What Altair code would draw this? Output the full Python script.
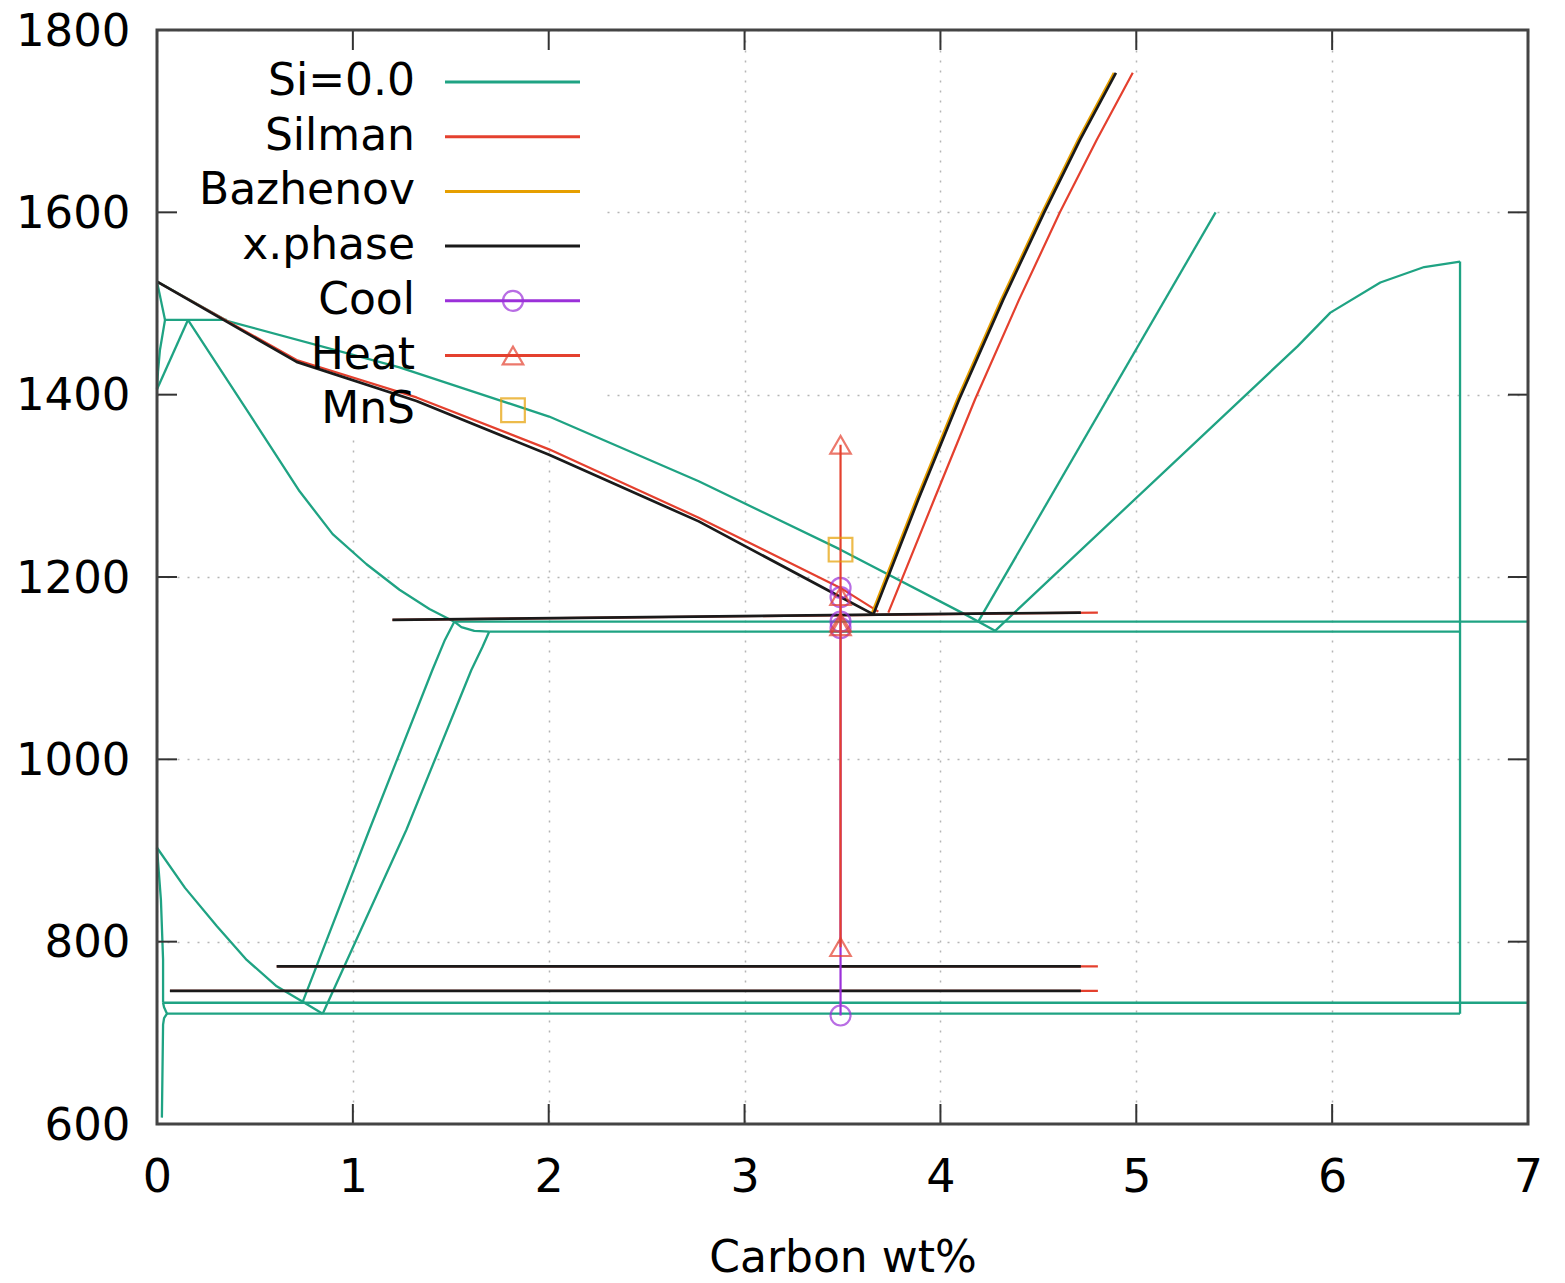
import altair as alt
import pandas as pd

W, H = 1371, 1094

# ---------------- data: Carbon wt% (c) vs temperature (T) ----------------
# Si=0.0 reference diagram (several separate curve segments)
si_delta_solidus_c = [0.0, 0.041]
si_delta_solidus_t = [1524, 1482]
si_delta_gamma_c = [0.041, 0.015, 0.005, 0.0]
si_delta_gamma_t = [1482, 1449, 1425, 1406]
si_gamma_delta_c = [0.0, 0.158]
si_gamma_delta_t = [1406, 1482]
si_peritectic_c = [0.041, 0.357]
si_peritectic_t = [1482, 1482]
si_delta_liq_c = [0.0, 0.357]
si_delta_liq_t = [1524, 1481]
si_gamma_liq_c = [0.357, 1.238, 2.002, 2.766, 3.490, 4.126, 4.279]
si_gamma_liq_t = [1481, 1430, 1376, 1305, 1230, 1159, 1141]
si_gamma_sol_c = [0.158, 0.474, 0.728, 0.897, 1.070, 1.238, 1.391, 1.518]
si_gamma_sol_t = [1482, 1378, 1294, 1247, 1214, 1186, 1165, 1151]
si_meta_sol_c = [1.518, 1.554, 1.620, 1.696]
si_meta_sol_t = [1151, 1145, 1141, 1140]
si_eutectic_c = [1.518, 7.0]
si_eutectic_t = [1151, 1151]
si_meta_eutectic_c = [1.696, 6.653]
si_meta_eutectic_t = [1140, 1140]
si_graphite_liq_c = [4.193, 5.405]
si_graphite_liq_t = [1151, 1600]
si_cementite_liq_c = [4.279, 5.823, 5.991, 6.246, 6.470, 6.653]
si_cementite_liq_t = [1141, 1453, 1490, 1523, 1540, 1546]
si_fe3c_c = [6.653, 6.653]
si_fe3c_t = [1546, 721]
si_acm_c = [0.744, 1.085, 1.406, 1.470, 1.518]
si_acm_t = [734, 923, 1098, 1131, 1151]
si_meta_acm_c = [0.846, 1.274, 1.605, 1.661, 1.696]
si_meta_acm_t = [721, 923, 1098, 1123, 1140]
si_a3_c = [0.0, 0.143, 0.306, 0.458, 0.611, 0.744, 0.846]
si_a3_t = [903, 859, 817, 780, 751, 734, 721]
si_alpha_c = [0.0, 0.020, 0.031, 0.031]
si_alpha_t = [903, 846, 780, 733]
si_alpha_solvus_c = [0.031, 0.036, 0.051, 0.036, 0.031, 0.025]
si_alpha_solvus_t = [733, 728, 721, 716, 709, 607]
si_eutectoid_c = [0.031, 7.0]
si_eutectoid_t = [733, 733]
si_meta_eutectoid_c = [0.051, 6.653]
si_meta_eutectoid_t = [721, 721]

# Silman
silman_liq_c = [0.0, 0.713, 1.325, 2.002, 2.766, 3.490, 3.683]
silman_liq_t = [1524, 1438, 1397, 1340, 1265, 1188, 1162]
silman_gr_c = [3.734, 3.968, 4.177, 4.401, 4.610, 4.799, 4.982]
silman_gr_t = [1161, 1285, 1395, 1504, 1600, 1680, 1753]
silman_eut_c = [1.202, 4.804]
silman_eut_t = [1153, 1161]
silman_ed1_c = [0.611, 4.804]
silman_ed1_t = [773, 773]
silman_ed2_c = [0.066, 4.804]
silman_ed2_t = [746, 746]

# Bazhenov
bazhenov_gr_c = [3.648, 3.877, 4.086, 4.310, 4.520, 4.704, 4.886]
bazhenov_gr_t = [1159, 1285, 1395, 1504, 1600, 1680, 1753]

# x.phase
xphase_liq_c = [0.0, 0.713, 1.325, 2.002, 2.766, 3.490, 3.658]
xphase_liq_t = [1524, 1436, 1393, 1334, 1261, 1178, 1159]
xphase_gr_c = [3.658, 3.887, 4.096, 4.320, 4.530, 4.714, 4.896]
xphase_gr_t = [1159, 1285, 1395, 1504, 1600, 1680, 1753]
xphase_eut_c = [1.202, 4.717]
xphase_eut_t = [1153, 1161]
xphase_ed1_c = [0.611, 4.717]
xphase_ed1_t = [773, 773]
xphase_ed2_c = [0.066, 4.717]
xphase_ed2_t = [746, 746]

# measured points
cool_c = [3.49, 3.49, 3.49, 3.49, 3.49]
cool_t = [1188, 1178, 1151, 1144, 719]
heat_c = [3.49, 3.49, 3.49, 3.49, 3.49]
heat_t = [1345, 1179, 1150, 1146, 794]
mns_c = [3.49]
mns_t = [1230]

x_ticks = [0, 1, 2, 3, 4, 5, 6, 7]
y_ticks = [600, 800, 1000, 1200, 1400, 1600, 1800]

legend_names = ["Si=0.0", "Silman", "Bazhenov", "x.phase", "Cool", "Heat", "MnS"]

# ---------------- styling ----------------
TEAL = "#1fa383"
RED = "#e4402e"
ORANGE = "#e69f00"
BLACK = "#1a1a1a"
PURPLE = "#9b30d9"
FONT = "DejaVu Sans"


def frame(series, segs):
    rows = []
    for k, (cs, ts) in enumerate(segs):
        for i, (c, t) in enumerate(zip(cs, ts)):
            rows.append({"series": series, "seg": f"{series}-{k}", "i": i, "c": c, "T": t})
    return pd.DataFrame(rows)


xscale = alt.Scale(domain=[0, 7], nice=False, zero=False)
yscale = alt.Scale(domain=[600, 1800], nice=False, zero=False)
xaxis = alt.Axis(values=x_ticks, format="d", title="Carbon wt%", grid=True,
                 gridDash=[2, 8], gridColor="#b5b5b5", gridWidth=1.5,
                 ticks=False, domain=False, labelFontSize=46, labelFont=FONT,
                 labelColor="black", labelPadding=31, labelFlush=False,
                 titleFontSize=44, titleFont=FONT, titleFontWeight="normal",
                 titleColor="black", titlePadding=36)
yaxis = alt.Axis(values=y_ticks, format="d", title=None, grid=True,
                 gridDash=[2, 8], gridColor="#b5b5b5", gridWidth=1.5,
                 ticks=False, domain=False, labelFontSize=45, labelFont=FONT,
                 labelColor="black", labelPadding=27, labelFlush=False,
                 labelOffset=1)

X = alt.X("c:Q", scale=xscale, axis=xaxis)
Y = alt.Y("T:Q", scale=yscale, axis=yaxis)

one = pd.DataFrame({"k": [0]})

layers = []

# grid carrier (axes)
layers.append(alt.Chart(pd.DataFrame({"c": x_ticks[:7], "T": y_ticks})).mark_point(opacity=0).encode(x=X, y=Y))

# opaque legend box hiding the grid
layers.append(alt.Chart(one).mark_rect(color="white").encode(
    x=alt.value(2), x2=alt.value(443), y=alt.value(2), y2=alt.value(410)))


def lines(df, color, width):
    return alt.Chart(df).mark_line(color=color, strokeWidth=width, strokeJoin="round").encode(
        x=X, y=Y, detail="seg:N", order="i:Q")


si_df = frame("Si=0.0", [
    (si_delta_solidus_c, si_delta_solidus_t), (si_delta_gamma_c, si_delta_gamma_t),
    (si_gamma_delta_c, si_gamma_delta_t), (si_peritectic_c, si_peritectic_t),
    (si_delta_liq_c, si_delta_liq_t), (si_gamma_liq_c, si_gamma_liq_t),
    (si_gamma_sol_c, si_gamma_sol_t), (si_meta_sol_c, si_meta_sol_t),
    (si_eutectic_c, si_eutectic_t), (si_meta_eutectic_c, si_meta_eutectic_t),
    (si_graphite_liq_c, si_graphite_liq_t), (si_cementite_liq_c, si_cementite_liq_t),
    (si_fe3c_c, si_fe3c_t), (si_acm_c, si_acm_t), (si_meta_acm_c, si_meta_acm_t),
    (si_a3_c, si_a3_t), (si_alpha_c, si_alpha_t), (si_alpha_solvus_c, si_alpha_solvus_t),
    (si_eutectoid_c, si_eutectoid_t), (si_meta_eutectoid_c, si_meta_eutectoid_t),
])
silman_df = frame("Silman", [
    (silman_liq_c, silman_liq_t), (silman_gr_c, silman_gr_t), (silman_eut_c, silman_eut_t),
    (silman_ed1_c, silman_ed1_t), (silman_ed2_c, silman_ed2_t),
])
baz_df = frame("Bazhenov", [(bazhenov_gr_c, bazhenov_gr_t)])
xph_df = frame("x.phase", [
    (xphase_liq_c, xphase_liq_t), (xphase_gr_c, xphase_gr_t), (xphase_eut_c, xphase_eut_t),
    (xphase_ed1_c, xphase_ed1_t), (xphase_ed2_c, xphase_ed2_t),
])
cool_df = frame("Cool", [(cool_c, cool_t)])
heat_df = frame("Heat", [(heat_c, heat_t)])
mns_df = frame("MnS", [(mns_c, mns_t)])

TRI = 420
CIRC = 400
SQ = 560

layers.append(lines(si_df, TEAL, 2.3))
layers.append(lines(silman_df, RED, 2.2))
layers.append(lines(baz_df, ORANGE, 2.5))
layers.append(lines(xph_df, BLACK, 2.7))
layers.append(lines(cool_df, PURPLE, 2.2))
layers.append(alt.Chart(cool_df).mark_point(shape="circle", filled=False, size=CIRC,
                                             strokeWidth=2.2, color=PURPLE).encode(x=X, y=Y))
layers.append(lines(heat_df, RED, 2.2))
layers.append(alt.Chart(heat_df).mark_point(shape="triangle-up", filled=False, size=TRI,
                                             strokeWidth=2.2, color=RED).encode(x=X, y=Y))
layers.append(alt.Chart(mns_df).mark_point(shape="square", filled=False, size=SQ,
                                            strokeWidth=2.2, color=ORANGE).encode(x=X, y=Y))

# ---------------- legend (gnuplot style key) ----------------
legend_colors = [TEAL, RED, ORANGE, BLACK, PURPLE, RED, ORANGE]
legend_line = [True, True, True, True, True, True, False]
legend_marker = [None, None, None, None, "circle", "triangle-up", "square"]
legend_msize = {"circle": CIRC, "triangle-up": TRI, "square": SQ}
row0, dy = 52, 54.7
for j, name in enumerate(legend_names):
    yy = row0 + j * dy
    d = pd.DataFrame({"label": [name]})
    layers.append(alt.Chart(d).mark_text(align="right", baseline="middle", font=FONT,
                                         fontSize=44, color="black").encode(
        x=alt.value(258), y=alt.value(yy), text="label:N"))
    if legend_line[j]:
        layers.append(alt.Chart(d).mark_rule(color=legend_colors[j], strokeWidth=3).encode(
            x=alt.value(288), x2=alt.value(423), y=alt.value(yy)))
    if legend_marker[j]:
        m = legend_marker[j]
        layers.append(alt.Chart(d).mark_point(shape=m, filled=False, size=legend_msize[m],
                                              strokeWidth=2.2, color=legend_colors[j]).encode(
            x=alt.value(356), y=alt.value(yy)))

# ---------------- inward ticks (all four sides) and border ----------------
xt = pd.DataFrame({"c": x_ticks})
yt = pd.DataFrame({"T": y_ticks})
TICK = "#333333"
layers.append(alt.Chart(xt).mark_rule(color=TICK, strokeWidth=2).encode(
    x=X, y=alt.value(H), y2=alt.value(H - 20)))
layers.append(alt.Chart(xt).mark_rule(color=TICK, strokeWidth=2).encode(
    x=X, y=alt.value(0), y2=alt.value(20)))
layers.append(alt.Chart(yt).mark_rule(color=TICK, strokeWidth=2).encode(
    y=Y, x=alt.value(0), x2=alt.value(20)))
layers.append(alt.Chart(yt).mark_rule(color=TICK, strokeWidth=2).encode(
    y=Y, x=alt.value(W), x2=alt.value(W - 20)))
layers.append(alt.Chart(one).mark_rect(filled=False, stroke="#444444", strokeWidth=3).encode(
    x=alt.value(0), x2=alt.value(W), y=alt.value(0), y2=alt.value(H)))

chart = alt.layer(*layers).properties(
    width=W, height=H,
    autosize=alt.AutoSizeParams(type="none"),
    padding={"left": 149, "top": 22, "right": 22, "bottom": 158},
).configure_view(stroke=None)

chart.save("out.html", embed_options={"renderer": "svg", "actions": False})
